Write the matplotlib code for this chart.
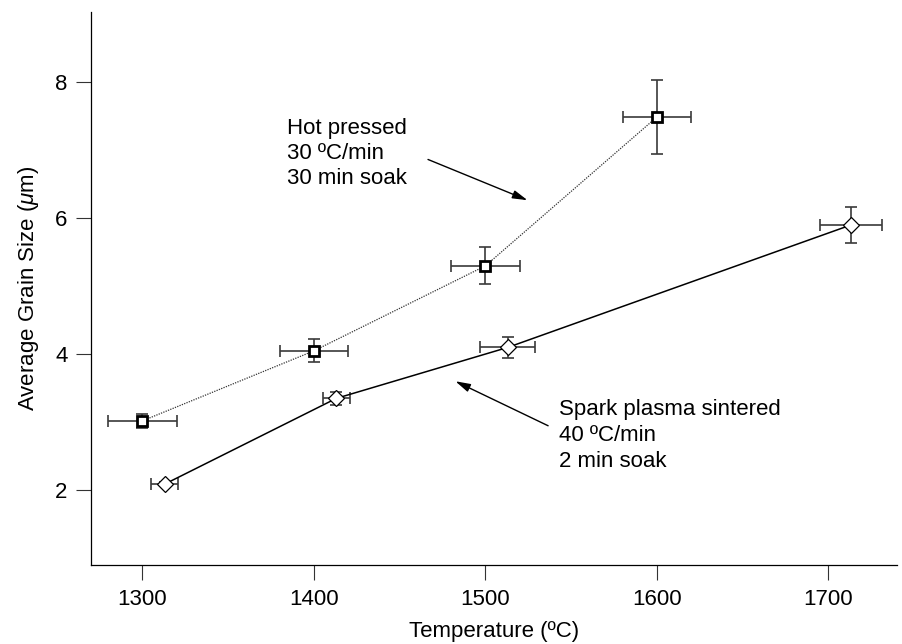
import matplotlib
matplotlib.use("Agg")
import matplotlib.pyplot as plt

plt.rcParams['font.family'] = ['Liberation Sans', 'DejaVu Sans']
plt.rcParams['mathtext.fontset'] = 'custom'
plt.rcParams['mathtext.it'] = 'Liberation Sans:italic'
plt.rcParams['mathtext.rm'] = 'Liberation Sans'

# Hot pressed
hp_temp = [1300, 1400, 1500, 1600]
hp_size = [3.02, 4.05, 5.30, 7.49]
hp_xerr = [20, 20, 20, 20]
hp_yerr = [0.10, 0.17, 0.27, 0.54]

# Spark plasma sintered
sps_temp = [1313, 1413, 1513, 1713]
sps_size = [2.09, 3.35, 4.10, 5.90]
sps_xerr = [8, 8, 16, 18]
sps_yerr = [0.03, 0.10, 0.15, 0.27]

x_ticks = [1300, 1400, 1500, 1600, 1700]
y_ticks = [2, 4, 6, 8]

fig = plt.figure(figsize=(9.03, 6.44), dpi=100)
ax = fig.add_axes([0.1008, 0.1227, 0.8926, 0.8583])

ecol = '#3a3a3a'
ax.errorbar(hp_temp, hp_size, xerr=hp_xerr, yerr=hp_yerr, fmt='none',
            ecolor=ecol, elinewidth=1.2, capsize=4, capthick=1.2, zorder=2)
ax.plot(hp_temp, hp_size, linestyle=(0, (1, 1)), color='#333333', linewidth=0.9,
        marker='s', markersize=7, markerfacecolor='white', markeredgecolor='black',
        markeredgewidth=2, zorder=3)

ax.errorbar(sps_temp, sps_size, xerr=sps_xerr, yerr=sps_yerr, fmt='none',
            ecolor=ecol, elinewidth=1.2, capsize=4, capthick=1.2, zorder=2)
ax.plot(sps_temp, sps_size, linestyle='-', color='black', linewidth=1.1,
        marker='D', markersize=8, markerfacecolor='white', markeredgecolor='black',
        markeredgewidth=0.9, zorder=3)

ax.set_xlim(1270, 1740)
ax.set_ylim(0.9, 9.03)
ax.set_xticks(x_ticks)
ax.set_yticks(y_ticks)
ax.tick_params(direction='out', length=11, width=0.8, labelsize=16, pad=6, color='#333333')
for s in ['top', 'right']:
    ax.spines[s].set_visible(False)
for s in ['left', 'bottom']:
    ax.spines[s].set_linewidth(0.9)

ax.set_xlabel('Temperature (ºC)', fontsize=16, labelpad=8)
ax.set_ylabel(r'Average Grain Size ($\mu$m)', fontsize=16, labelpad=10)

ax.annotate('', xy=(1526, 6.25), xytext=(1465, 6.88),
            arrowprops=dict(arrowstyle='-|>,head_length=0.9,head_width=0.25', color='black', lw=1))
ax.text(1384, 7.48, 'Hot pressed\n30 ºC/min\n30 min soak', fontsize=16,
        va='top', ha='left', linespacing=1.25)

ax.annotate('', xy=(1481, 3.62), xytext=(1538, 2.93),
            arrowprops=dict(arrowstyle='-|>,head_length=0.9,head_width=0.25', color='black', lw=1))
ax.text(1543, 3.34, 'Spark plasma sintered\n40 ºC/min\n2 min soak', fontsize=16,
        va='top', ha='left', linespacing=1.3)

fig.savefig('out.png', dpi=100)
